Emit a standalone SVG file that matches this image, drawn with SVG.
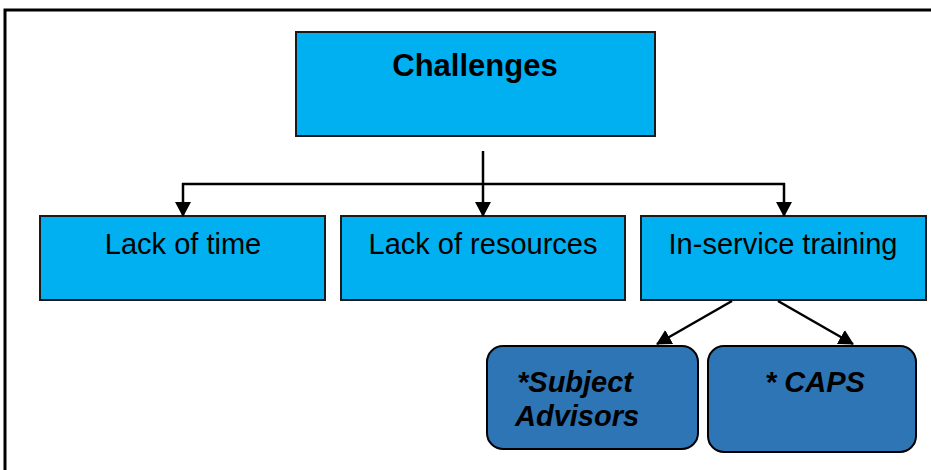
<svg xmlns="http://www.w3.org/2000/svg" width="931" height="470" viewBox="0 0 931 470">
<defs>
<marker id="ah" markerWidth="15" markerHeight="16" viewBox="0 0 15 16" refX="14" refY="8" orient="auto" markerUnits="userSpaceOnUse">
<path d="M0,0 L15,8 L0,16 Z" fill="#000"/>
</marker>
<style>
.box{fill:#00B0F0;stroke:#1a1a1a;stroke-width:2}
.rbox{fill:#2E75B6;stroke:#000;stroke-width:2}
.t{font-family:"Liberation Sans",Arial,sans-serif;font-size:29px;fill:#000}
.title{font-family:"Liberation Sans",Arial,sans-serif;font-size:31px;font-weight:bold;fill:#000}
.bi{font-family:"Liberation Sans",Arial,sans-serif;font-size:29px;font-weight:bold;font-style:italic;fill:#000}
.c{fill:none;stroke:#000;stroke-width:2.5}
</style>
</defs>
<rect width="931" height="470" fill="#fff"/>
<path d="M5,480 L5,10 L940,10" fill="none" stroke="#000" stroke-width="3"/>
<g id="challenges">
<rect class="box" x="296" y="32" width="359" height="104"/>
<text class="title" x="475" y="76" text-anchor="middle">Challenges</text>
</g>
<g id="lack-of-time">
<rect class="box" x="40" y="216" width="285" height="84"/>
<text class="t" x="183" y="254" text-anchor="middle">Lack of time</text>
</g>
<g id="lack-of-resources">
<rect class="box" x="341" y="216" width="284" height="84"/>
<text class="t" x="483" y="254" text-anchor="middle">Lack of resources</text>
</g>
<g id="in-service-training">
<rect class="box" x="641" y="216" width="285" height="84"/>
<text class="t" x="783" y="254" text-anchor="middle">In-service training</text>
</g>
<g id="subject-advisors">
<rect class="rbox" x="487" y="346" width="211" height="103" rx="16" ry="16"/>
<text class="bi" x="517" y="392">*Subject</text>
<text class="bi" x="515" y="426">Advisors</text>
</g>
<g id="caps">
<rect class="rbox" x="708" y="346" width="208" height="106" rx="16" ry="16"/>
<text class="bi" x="765" y="392">* CAPS</text>
</g>
<g id="connectors">
<line class="c" x1="483" y1="151" x2="483" y2="216" marker-end="url(#ah)"/>
<line class="c" x1="182" y1="184" x2="785" y2="184"/>
<line class="c" x1="183" y1="183" x2="183" y2="216" marker-end="url(#ah)"/>
<line class="c" x1="784" y1="183" x2="784" y2="216" marker-end="url(#ah)"/>
<line class="c" x1="732" y1="301" x2="657" y2="344" marker-end="url(#ah)"/>
<line class="c" x1="778" y1="301" x2="853" y2="344" marker-end="url(#ah)"/>
</g>
</svg>
